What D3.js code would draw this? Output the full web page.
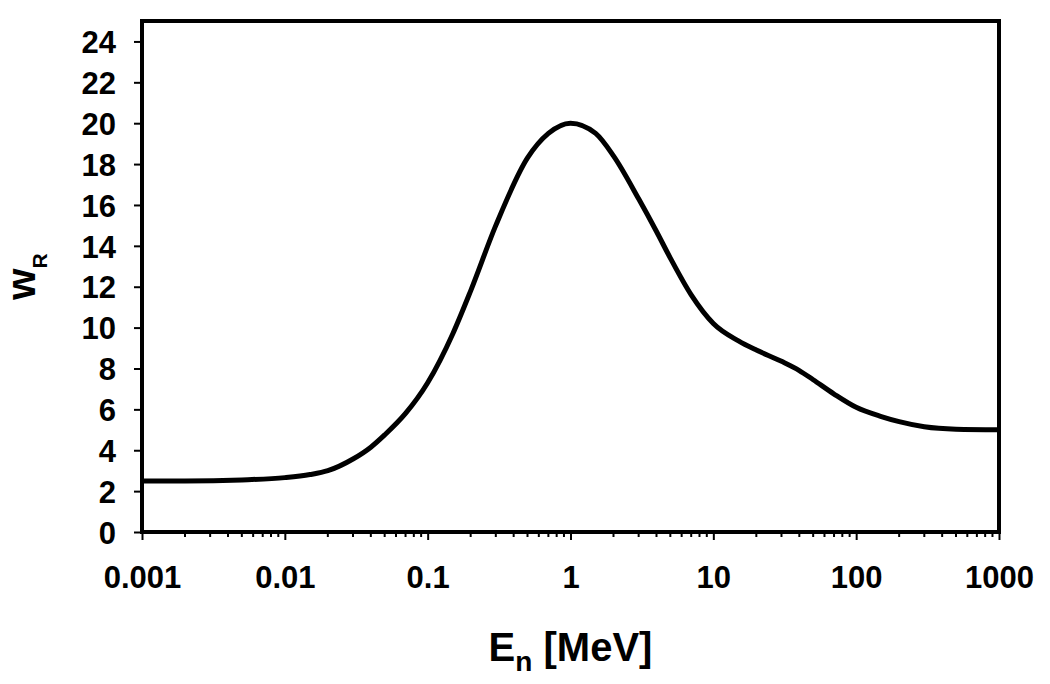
<!DOCTYPE html>
<html>
<head>
<meta charset="utf-8">
<script src="https://cdn.jsdelivr.net/npm/d3@7"></script>
<style>
  html, body { margin: 0; padding: 0; background: #fff; }
  svg { display: block; }
  text { font-family: "Liberation Sans", Arial, sans-serif; font-weight: bold; fill: #000; }
</style>
</head>
<body>
<svg id="chart" width="1050" height="684"></svg>
<script>
// Neutron energy (MeV) and radiation weighting factor
const energies = [0.001, 0.002, 0.005, 0.01, 0.015, 0.02, 0.03, 0.04, 0.05, 0.07, 0.1, 0.15, 0.2, 0.3, 0.5, 0.7, 1, 1.5, 2, 3, 4, 5, 7, 10, 15, 20, 30, 40, 50, 70, 100, 150, 200, 300, 500, 1000];
const wR       = [2.5, 2.5, 2.55, 2.66, 2.81, 3.0, 3.57, 4.15, 4.75, 5.8, 7.3, 9.7, 11.8, 15.0, 18.3, 19.5, 20.0, 19.5, 18.4, 16.3, 14.7, 13.4, 11.6, 10.2, 9.35, 8.9, 8.35, 7.9, 7.45, 6.75, 6.1, 5.65, 5.4, 5.15, 5.03, 5.0];
const xTickValues = [0.001, 0.01, 0.1, 1, 10, 100, 1000];
const xTickLabels = ["0.001", "0.01", "0.1", "1", "10", "100", "1000"];
const yTickValues = [0, 2, 4, 6, 8, 10, 12, 14, 16, 18, 20, 22, 24];

const svg = d3.select("#chart");
const mLeft = 142, mRight = 999, mTop = 21, mBottom = 532;

const x = d3.scaleLog().domain([0.001, 1000]).range([mLeft, mRight]);
const y = d3.scaleLinear().domain([0, 25]).range([mBottom, mTop]);

// Minor ticks
const minor = [];
for (let d = -3; d < 3; d++) {
  for (let k = 2; k <= 9; k++) minor.push(k * Math.pow(10, d));
}
svg.append("g").selectAll("line").data(minor).join("line")
  .attr("x1", d => x(d)).attr("x2", d => x(d))
  .attr("y1", mBottom).attr("y2", mBottom + 5)
  .attr("stroke", "#000").attr("stroke-width", 2);

// X axis (major ticks + labels)
const xAxis = d3.axisBottom(x).tickValues(xTickValues)
  .tickFormat((d, i) => xTickLabels[i]).tickSize(8).tickSizeOuter(0);
const gx = svg.append("g").attr("transform", `translate(0,${mBottom})`).call(xAxis);
gx.select(".domain").remove();
gx.selectAll(".tick line").attr("stroke", "#000").attr("stroke-width", 2);
gx.selectAll(".tick text").attr("font-size", 31).attr("font-family", null)
  .attr("dy", null).attr("y", 56);

// Y axis
const yAxis = d3.axisLeft(y).tickValues(yTickValues).tickSize(8).tickSizeOuter(0);
const gy = svg.append("g").attr("transform", `translate(${mLeft},0)`).call(yAxis);
gy.select(".domain").remove();
gy.selectAll(".tick line").attr("stroke", "#000").attr("stroke-width", 2);
gy.selectAll(".tick text").attr("font-size", 31).attr("font-family", null)
  .attr("x", -26).attr("dy", "0.36em");

// Curve
const line = d3.line().x((d, i) => x(energies[i])).y((d, i) => y(wR[i]))
  .curve(d3.curveMonotoneX);
svg.append("path").datum(wR).attr("d", line)
  .attr("fill", "none").attr("stroke", "#000").attr("stroke-width", 5)
  .attr("stroke-linejoin", "round");

// Plot box
svg.append("rect").attr("x", mLeft).attr("y", mTop)
  .attr("width", mRight - mLeft).attr("height", mBottom - mTop)
  .attr("fill", "none").attr("stroke", "#000").attr("stroke-width", 4);

// X title
const xt = svg.append("text").attr("x", (mLeft + mRight) / 2).attr("y", 661)
  .attr("text-anchor", "middle").attr("font-size", 40);
xt.append("tspan").text("E");
xt.append("tspan").attr("font-size", 28).attr("dy", 10).text("n");
xt.append("tspan").attr("dy", -10).text(" [MeV]");

// Y title
const yt = svg.append("text")
  .attr("transform", `translate(35,${(mTop + mBottom) / 2}) rotate(-90)`)
  .attr("text-anchor", "middle").attr("font-size", 40);
yt.append("tspan").text("w");
yt.append("tspan").attr("font-size", 21).attr("dy", 12).text("R");
</script>
</body>
</html>
